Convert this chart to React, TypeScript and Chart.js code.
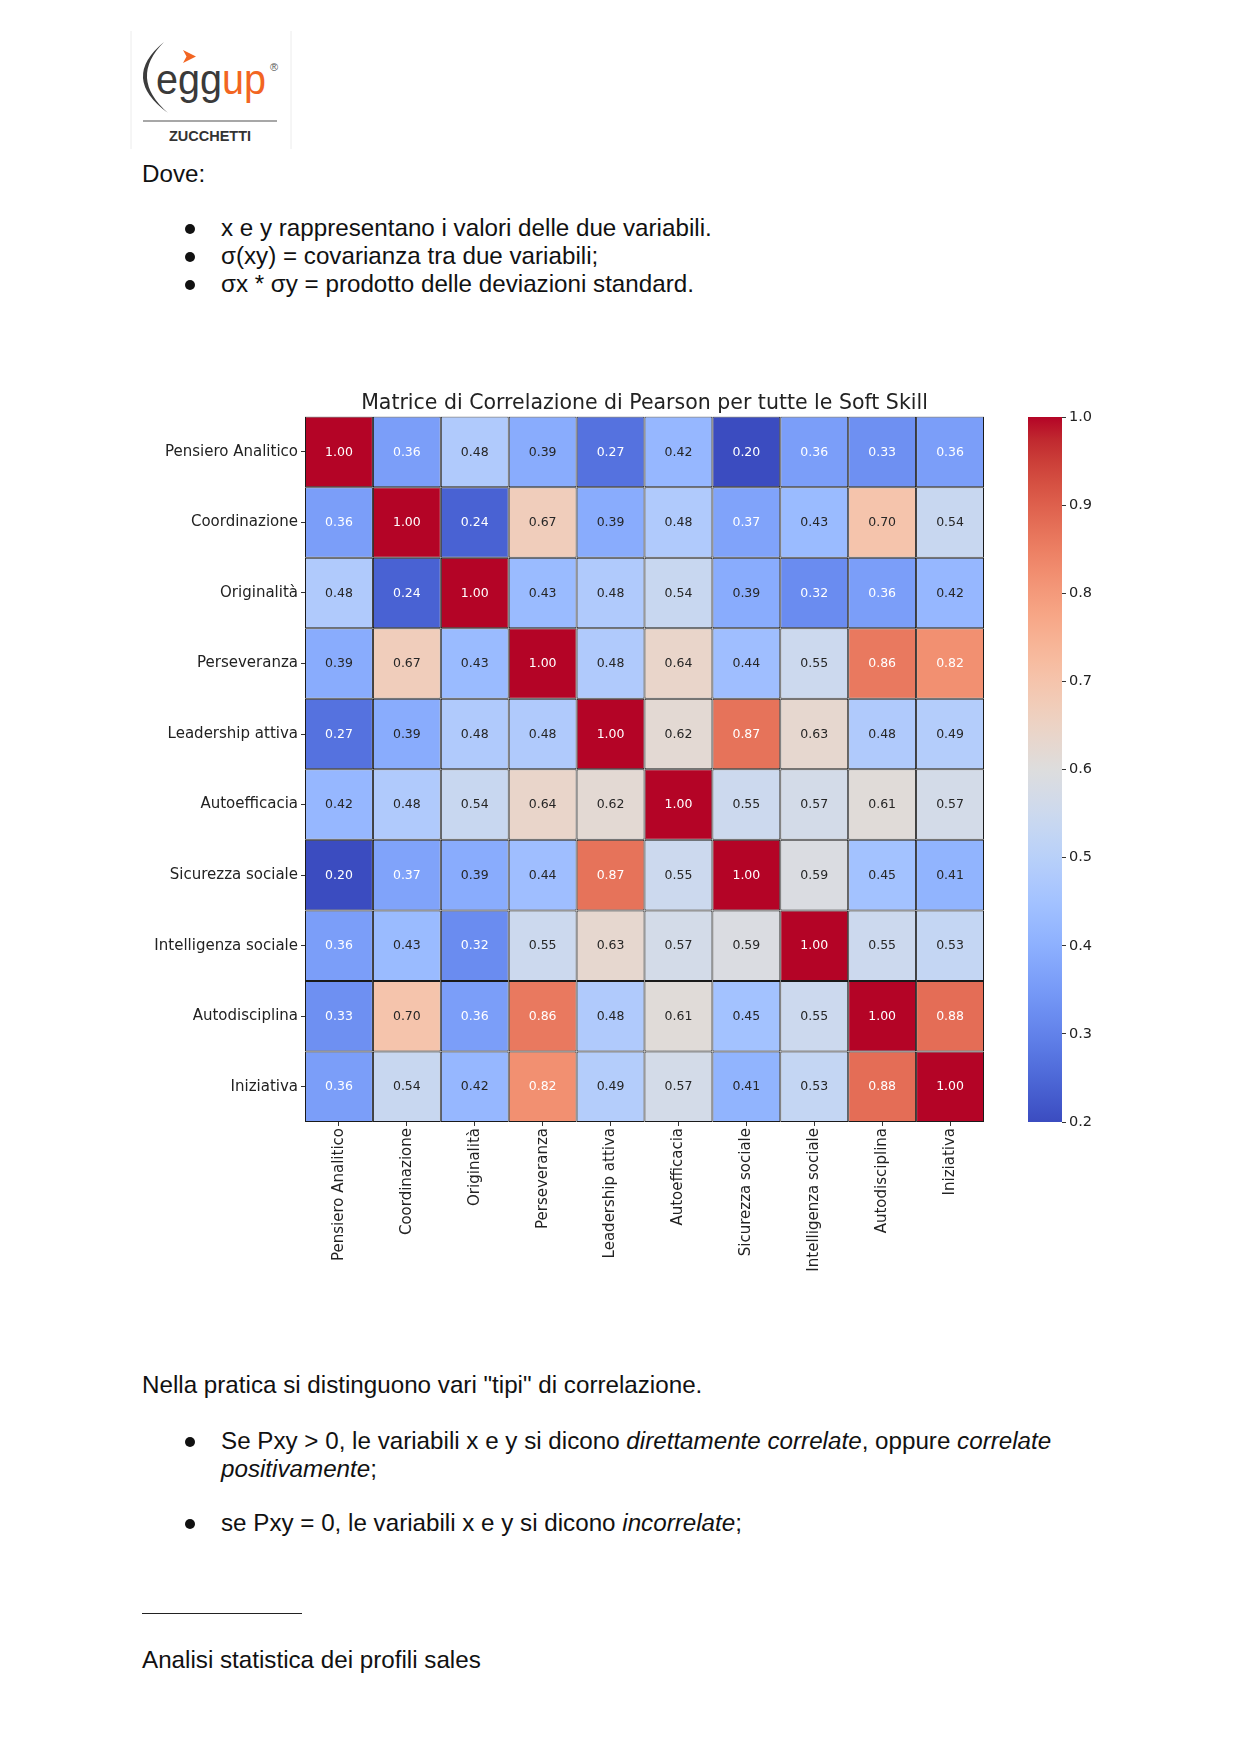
import React, { useEffect, useRef } from "react";
import { Chart, registerables } from "chart.js";

Chart.register(...registerables);

// ---------- DATA ----------
const SKILLS = [
  "Pensiero Analitico",
  "Coordinazione",
  "Originalità",
  "Perseveranza",
  "Leadership attiva",
  "Autoefficacia",
  "Sicurezza sociale",
  "Intelligenza sociale",
  "Autodisciplina",
  "Iniziativa",
];

const ROW_PENSIERO_ANALITICO = [1.0, 0.36, 0.48, 0.39, 0.27, 0.42, 0.2, 0.36, 0.33, 0.36];
const ROW_COORDINAZIONE = [0.36, 1.0, 0.24, 0.67, 0.39, 0.48, 0.37, 0.43, 0.7, 0.54];
const ROW_ORIGINALITA = [0.48, 0.24, 1.0, 0.43, 0.48, 0.54, 0.39, 0.32, 0.36, 0.42];
const ROW_PERSEVERANZA = [0.39, 0.67, 0.43, 1.0, 0.48, 0.64, 0.44, 0.55, 0.86, 0.82];
const ROW_LEADERSHIP = [0.27, 0.39, 0.48, 0.48, 1.0, 0.62, 0.87, 0.63, 0.48, 0.49];
const ROW_AUTOEFFICACIA = [0.42, 0.48, 0.54, 0.64, 0.62, 1.0, 0.55, 0.57, 0.61, 0.57];
const ROW_SICUREZZA = [0.2, 0.37, 0.39, 0.44, 0.87, 0.55, 1.0, 0.59, 0.45, 0.41];
const ROW_INTELLIGENZA = [0.36, 0.43, 0.32, 0.55, 0.63, 0.57, 0.59, 1.0, 0.55, 0.53];
const ROW_AUTODISCIPLINA = [0.33, 0.7, 0.36, 0.86, 0.48, 0.61, 0.45, 0.55, 1.0, 0.88];
const ROW_INIZIATIVA = [0.36, 0.54, 0.42, 0.82, 0.49, 0.57, 0.41, 0.53, 0.88, 1.0];

const CORR = [
  ROW_PENSIERO_ANALITICO,
  ROW_COORDINAZIONE,
  ROW_ORIGINALITA,
  ROW_PERSEVERANZA,
  ROW_LEADERSHIP,
  ROW_AUTOEFFICACIA,
  ROW_SICUREZZA,
  ROW_INTELLIGENZA,
  ROW_AUTODISCIPLINA,
  ROW_INIZIATIVA,
];

const CHART_TITLE = "Matrice di Correlazione di Pearson per tutte le Soft Skill";
const VMIN = 0.2;
const VMAX = 1.0;
const COLORBAR_STEP = 0.1;

// ---------- COLORMAP (coolwarm) ----------
const COOLWARM: number[][] = [
  [59, 76, 192], [68, 90, 204], [77, 104, 215], [87, 117, 225], [98, 130, 234],
  [108, 142, 241], [119, 154, 247], [130, 165, 251], [141, 176, 254], [152, 185, 255],
  [163, 194, 255], [174, 201, 253], [184, 208, 249], [194, 213, 244], [204, 217, 238],
  [213, 219, 230], [221, 221, 221], [229, 216, 209], [236, 211, 197], [241, 204, 184],
  [245, 196, 172], [247, 187, 159], [247, 177, 147], [247, 166, 134], [244, 154, 123],
  [241, 141, 111], [236, 127, 99], [229, 112, 88], [222, 96, 77], [213, 80, 66],
  [203, 62, 56], [192, 40, 47], [180, 4, 38],
];

function cmapRGB(v: number): number[] {
  let t = (v - VMIN) / (VMAX - VMIN);
  t = Math.max(0, Math.min(1, t));
  const f = t * (COOLWARM.length - 1);
  const i = Math.min(Math.floor(f), COOLWARM.length - 2);
  const r = f - i;
  const a = COOLWARM[i];
  const b = COOLWARM[i + 1];
  return [0, 1, 2].map((k) => Math.round(a[k] + (b[k] - a[k]) * r));
}
function cmap(v: number): string {
  const c = cmapRGB(v);
  return `rgb(${c[0]},${c[1]},${c[2]})`;
}
function textColor(v: number): string {
  const c = cmapRGB(v).map((x) => {
    const s = x / 255;
    return s <= 0.03928 ? s / 12.92 : Math.pow((s + 0.055) / 1.055, 2.4);
  });
  const lum = 0.2126 * c[0] + 0.7152 * c[1] + 0.0722 * c[2];
  return lum > 0.408 ? "#262626" : "#ffffff";
}

const FONT = '"DejaVu Sans", sans-serif';

const annotPlugin = {
  id: "annot",
  afterDatasetsDraw(chart: any) {
    const ctx = chart.ctx;
    ctx.save();
    ctx.font = `12.5px ${FONT}`;
    ctx.textAlign = "center";
    ctx.textBaseline = "middle";
    chart.data.datasets.forEach((_ds: any, i: number) => {
      const meta = chart.getDatasetMeta(i);
      meta.data.forEach((el: any, j: number) => {
        const v = CORR[i][j];
        const p = el.getProps(["x", "y", "base"], true);
        ctx.fillStyle = textColor(v);
        ctx.fillText(v.toFixed(2), p.x, (p.y + p.base) / 2 + 0.5);
      });
    });
    ctx.restore();
  },
};

function Heatmap() {
  const ref = useRef<HTMLCanvasElement>(null);
  useEffect(() => {
    if (!ref.current) return;
    const datasets = CORR.map((row, i) => ({
      label: SKILLS[i],
      data: row.map(() => [i, i + 1]),
      backgroundColor: row.map((v) => cmap(v)),
      borderColor: "#1a1a1a",
      borderWidth: 1,
      borderSkipped: false,
      barPercentage: 1,
      categoryPercentage: 1,
      grouped: false,
      inflateAmount: 0,
    }));
    const chart = new Chart(ref.current, {
      type: "bar",
      data: { labels: SKILLS, datasets: datasets as any },
      options: {
        animation: false,
        responsive: false,
        events: [],
        layout: { padding: { left: 0, right: 8, top: 0, bottom: 0 } },
        plugins: {
          legend: { display: false },
          tooltip: { enabled: false },
          title: {
            display: true,
            text: CHART_TITLE,
            fullSize: false,
            color: "#222",
            font: { family: FONT, size: 20.5, weight: "normal" },
            padding: { top: 11, bottom: 1 },
          },
        },
        scales: {
          x: {
            type: "category",
            offset: true,
            grid: {
              display: true,
              drawOnChartArea: false,
              drawTicks: true,
              tickLength: 4,
              color: "#333",
              offset: false,
            },
            border: { display: false },
            ticks: {
              autoSkip: false,
              minRotation: 90,
              maxRotation: 90,
              color: "#222",
              padding: 2,
              font: { family: FONT, size: 15 },
            },
            afterFit(s: any) {
              s.height = 158;
            },
          },
          y: {
            type: "linear",
            min: 0,
            max: SKILLS.length,
            reverse: true,
            afterBuildTicks(s: any) {
              s.ticks = SKILLS.map((_, i) => ({ value: i + 0.5 }));
            },
            ticks: {
              color: "#222",
              padding: 3,
              font: { family: FONT, size: 15 },
              callback: (v: any) => SKILLS[Math.floor(Number(v))] ?? "",
            },
            grid: {
              drawOnChartArea: false,
              drawTicks: true,
              tickLength: 4,
              color: "#333",
            },
            border: { display: false },
            afterFit(s: any) {
              s.width = 185;
            },
          },
        },
      } as any,
      plugins: [annotPlugin],
    });
    return () => chart.destroy();
  }, []);
  return (
    <canvas
      ref={ref}
      width={872}
      height={900}
      style={{ position: "absolute", left: 120, top: 380, width: 872, height: 900 }}
    />
  );
}

function ColorBar() {
  const ref = useRef<HTMLCanvasElement>(null);
  useEffect(() => {
    if (!ref.current) return;
    const chart = new Chart(ref.current, {
      type: "bar",
      data: {
        labels: [""],
        datasets: [
          {
            data: [[VMIN, VMAX]] as any,
            backgroundColor: (c: any) => {
              const ca = c.chart.chartArea;
              if (!ca) return cmap(0.6);
              const g = c.chart.ctx.createLinearGradient(0, ca.bottom, 0, ca.top);
              COOLWARM.forEach((col, k) =>
                g.addColorStop(k / (COOLWARM.length - 1), `rgb(${col[0]},${col[1]},${col[2]})`)
              );
              return g;
            },
            borderWidth: 0,
            borderSkipped: false,
            barPercentage: 1,
            categoryPercentage: 1,
            inflateAmount: 0,
          } as any,
        ],
      },
      options: {
        animation: false,
        responsive: false,
        events: [],
        layout: { padding: { left: 28, right: 0, top: 37, bottom: 18 } },
        plugins: { legend: { display: false }, tooltip: { enabled: false } },
        scales: {
          x: { display: false },
          y: {
            position: "right",
            min: VMIN,
            max: VMAX,
            ticks: {
              stepSize: COLORBAR_STEP,
              color: "#222",
              padding: 3,
              font: { family: FONT, size: 14.5 },
              callback: (v: any) => Number(v).toFixed(1),
            },
            grid: { drawOnChartArea: false, drawTicks: true, tickLength: 4, color: "#333" },
            border: { display: false },
            afterFit(s: any) {
              s.width = 48;
            },
          },
        },
      } as any,
    });
    return () => chart.destroy();
  }, []);
  return (
    <canvas
      ref={ref}
      width={110}
      height={760}
      style={{ position: "absolute", left: 1000, top: 380, width: 110, height: 760 }}
    />
  );
}

function Logo() {
  return (
    <svg
      width={200}
      height={140}
      viewBox="120 20 200 140"
      style={{ position: "absolute", left: 120, top: 20 }}
    >
      <line x1={131} y1={31} x2={131} y2={149} stroke="#ececec" strokeWidth={1} />
      <line x1={291} y1={31} x2={291} y2={149} stroke="#ececec" strokeWidth={1} />
      <path d="M164 42 Q120 78 168 113 Q128 78 164 42 Z" fill="#3c3c3c" />
      <path d="M183 50 L196 56.5 L183 63 L186.5 56.5 Z" fill="#f26522" />
      <text
        x={156}
        y={94}
        fontFamily='"Liberation Sans", Arial, sans-serif'
        fontSize={42}
        textLength={110}
        lengthAdjust="spacingAndGlyphs"
      >
        <tspan fill="#3a3a3a">egg</tspan>
        <tspan fill="#f26522">up</tspan>
      </text>
      <text x={270} y={71} fontFamily='"Liberation Sans", Arial, sans-serif' fontSize={11} fill="#555">
        ®
      </text>
      <line x1={143} y1={121} x2={277} y2={121} stroke="#8a8a8a" strokeWidth={1.5} />
      <text
        x={210}
        y={140.5}
        textAnchor="middle"
        fontFamily='"Liberation Sans", Arial, sans-serif'
        fontWeight="bold"
        fontSize={14.5}
        fill="#333"
      >
        ZUCCHETTI
      </text>
    </svg>
  );
}

const TXT: React.CSSProperties = {
  position: "absolute",
  fontFamily: '"Liberation Sans", Arial, sans-serif',
  fontSize: 24.2,
  lineHeight: "28px",
  color: "#111",
  whiteSpace: "nowrap",
};

function Bullet({ top }: { top: number }) {
  return (
    <div
      style={{
        position: "absolute",
        left: 185,
        top: top + 10,
        width: 10,
        height: 10,
        borderRadius: "50%",
        background: "#111",
      }}
    />
  );
}

export default function App() {
  useEffect(() => {
    document.body.style.margin = "0";
  }, []);
  return (
    <div
      style={{
        position: "absolute",
        left: 0,
        top: 0,
        width: 1241,
        height: 1754,
        background: "#fff",
        overflow: "hidden",
      }}
    >
      <Logo />
      <div style={{ ...TXT, left: 142, top: 160 }}>Dove:</div>

      <Bullet top={214} />
      <div style={{ ...TXT, left: 221, top: 214 }}>x e y rappresentano i valori delle due variabili.</div>
      <Bullet top={242} />
      <div style={{ ...TXT, left: 221, top: 242 }}>σ(xy) = covarianza tra due variabili;</div>
      <Bullet top={270} />
      <div style={{ ...TXT, left: 221, top: 270 }}>σx * σy = prodotto delle deviazioni standard.</div>

      <Heatmap />
      <ColorBar />

      <div style={{ ...TXT, left: 142, top: 1371 }}>
        Nella pratica si distinguono vari "tipi" di correlazione.
      </div>
      <Bullet top={1427} />
      <div style={{ ...TXT, left: 221, top: 1427 }}>
        Se Pxy &gt; 0, le variabili x e y si dicono <i>direttamente correlate</i>, oppure <i>correlate</i>
      </div>
      <div style={{ ...TXT, left: 221, top: 1455 }}>
        <i>positivamente</i>;
      </div>
      <Bullet top={1509} />
      <div style={{ ...TXT, left: 221, top: 1509 }}>
        se Pxy = 0, le variabili x e y si dicono <i>incorrelate</i>;
      </div>

      <div style={{ position: "absolute", left: 142, top: 1613, width: 160, height: 1, background: "#222" }} />
      <div style={{ ...TXT, left: 142, top: 1646 }}>Analisi statistica dei profili sales</div>
    </div>
  );
}
